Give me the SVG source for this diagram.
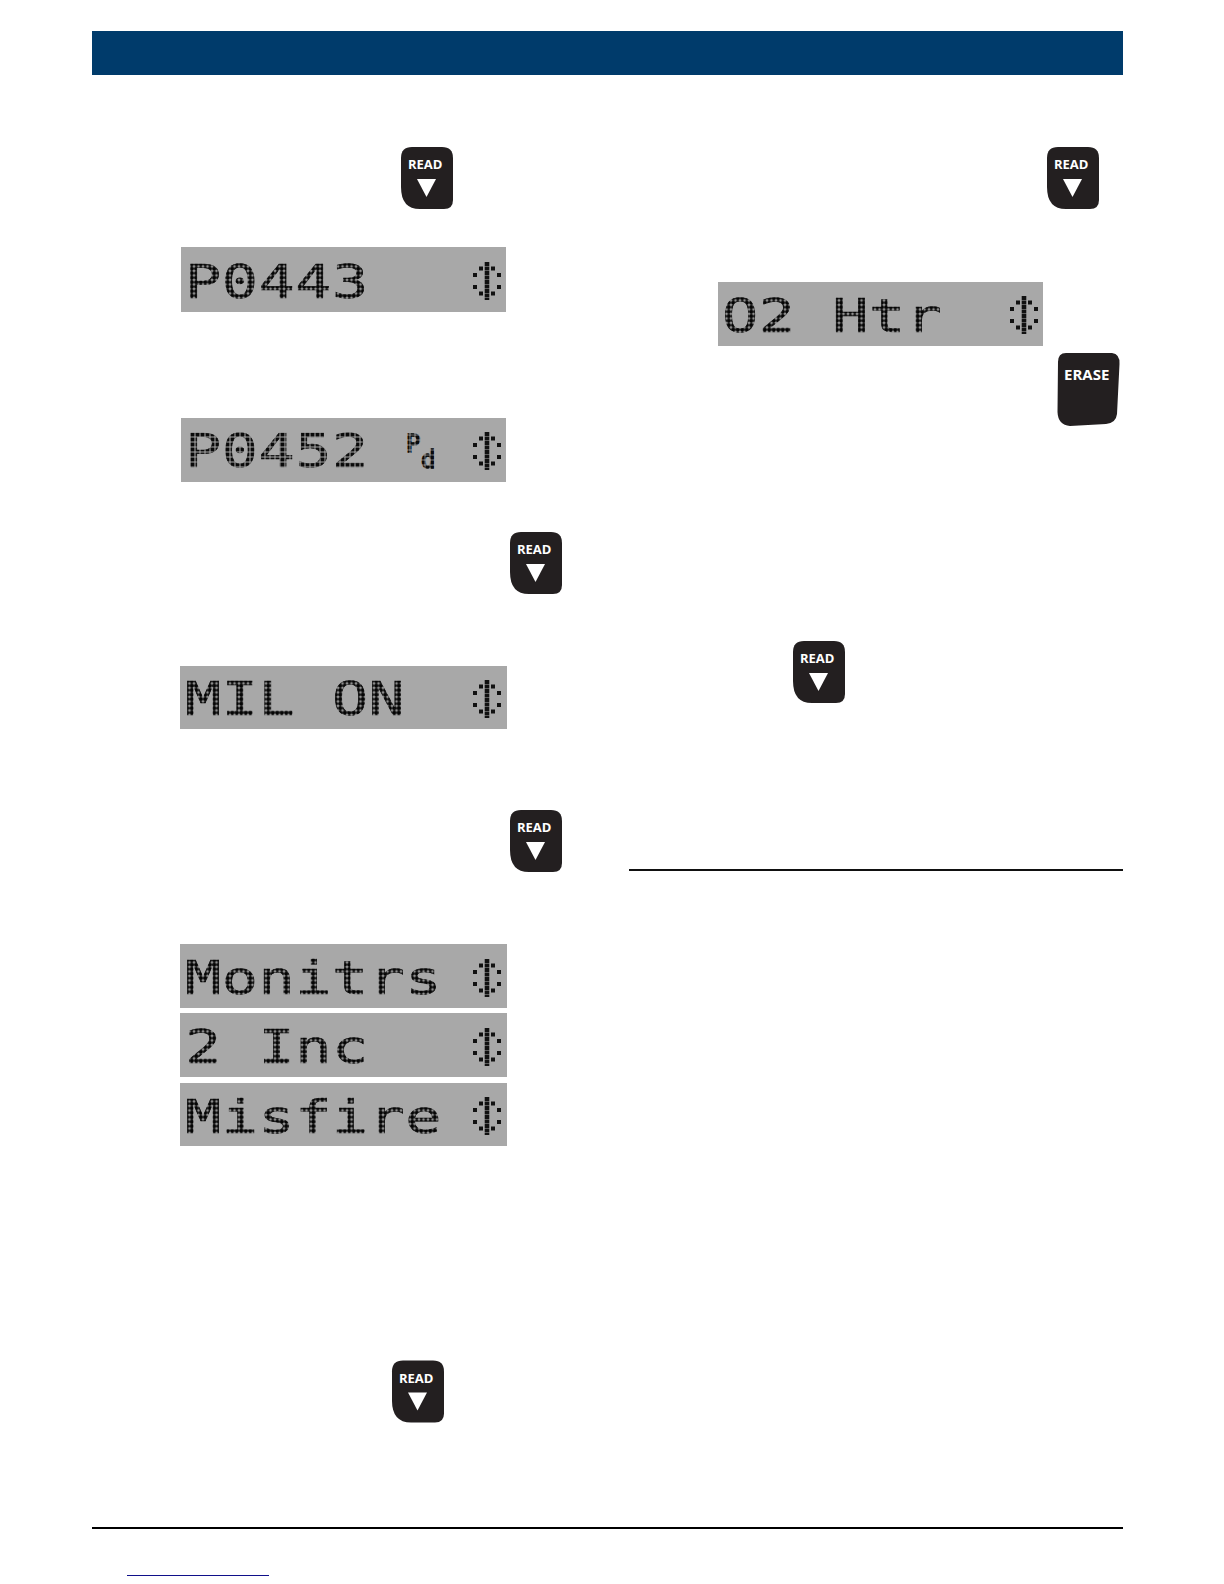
<svg xmlns="http://www.w3.org/2000/svg" width="1224" height="1584" viewBox="0 0 1224 1584">
<style>
.lcd{fill:#a8a8a8}
.t{font-family:"DejaVu Sans Mono",monospace;font-size:47px;fill:url(#dots);stroke:url(#dots);stroke-width:.6px;letter-spacing:.4px}
.s{fill:url(#sq);stroke:url(#sq)}
.sm{font-family:"DejaVu Sans Mono",monospace;font-size:24px;fill:url(#sq2);stroke:url(#sq2);stroke-width:1.5px}
.btn{fill:#231f20}
.lbl{font-family:"Open Sans",sans-serif;font-weight:700;font-size:13px;fill:#fff}
.tri{fill:#fff}
.ar{fill:#111}
</style>
<defs>
<pattern id="dots" width="3.516" height="4.500" patternUnits="userSpaceOnUse"><ellipse cx="1.758" cy="2.250" rx="1.720" ry="2.200" fill="#050505"/></pattern>
<pattern id="sq" width="3.906" height="5" patternUnits="userSpaceOnUse"><rect x=".4" y=".5" width="3.100" height="4" fill="#0a0a0a"/></pattern>
<pattern id="sq2" width="5" height="5" patternUnits="userSpaceOnUse"><rect x=".5" y=".5" width="4" height="4" fill="#0a0a0a"/></pattern>
<g id="ud">
<line x1="0" y1="-19" x2="0" y2="19" stroke="#111" stroke-width="4.600" stroke-dasharray="4 .5"/>
<rect x="-8" y="-14.500" width="4" height="4" class="ar"/>
<rect x="4" y="-14.500" width="4" height="4" class="ar"/>
<rect x="-14" y="-8" width="4" height="4" class="ar"/>
<rect x="10" y="-8" width="4" height="4" class="ar"/>
<rect x="-14" y="4" width="4" height="4" class="ar"/>
<rect x="10" y="4" width="4" height="4" class="ar"/>
<rect x="-8" y="10.500" width="4" height="4" class="ar"/>
<rect x="4" y="10.500" width="4" height="4" class="ar"/>
</g>
<path id="key" d="M11 0H41Q52 0 52 11V53Q52 62 43 62H19Q0 62 0 40V11Q0 0 11 0Z"/>
</defs>

<rect id="header" x="92" y="31" width="1031" height="44" fill="#003b6b"/>

<g id="read1" transform="translate(401 147)"><use href="#key" class="btn"/><text x="7" y="22" class="lbl">READ</text><path d="M16 32H35L25.500 50Z" class="tri"/></g>
<g id="read2" transform="translate(510 532)"><use href="#key" class="btn"/><text x="7" y="22" class="lbl">READ</text><path d="M16 32H35L25.500 50Z" class="tri"/></g>
<g id="read3" transform="translate(510 810)"><use href="#key" class="btn"/><text x="7" y="22" class="lbl">READ</text><path d="M16 32H35L25.500 50Z" class="tri"/></g>
<g id="read4" transform="translate(392 1360.500)"><use href="#key" class="btn"/><text x="7" y="22" class="lbl">READ</text><path d="M16 32H35L25.500 50Z" class="tri"/></g>
<g id="read5" transform="translate(1047 147)"><use href="#key" class="btn"/><text x="7" y="22" class="lbl">READ</text><path d="M16 32H35L25.500 50Z" class="tri"/></g>
<g id="read6" transform="translate(793 641)"><use href="#key" class="btn"/><text x="7" y="22" class="lbl">READ</text><path d="M16 32H35L25.500 50Z" class="tri"/></g>

<g id="erase"><path class="btn" d="M1066 353H1112Q1120 354 1119.500 364L1117 414Q1116 423 1106 424L1070 426Q1058 425 1057.500 412L1058 362Q1058 353 1066 353Z"/><text x="1064" y="380" class="lbl" style="font-size:15px">ERASE</text></g>

<g id="lcd1"><rect class="lcd" x="181" y="247" width="325" height="65"/><text class="t" transform="translate(185 298) scale(1.28 1)">P0443</text><use href="#ud" x="487" y="281"/></g>
<g id="lcd2"><rect class="lcd" x="181" y="418" width="325" height="64"/><text class="t s" transform="translate(185 467) scale(1.28 1)">P0452</text><text class="sm" x="406" y="452">P</text><text class="sm" x="421" y="468">d</text><use href="#ud" x="487" y="451"/></g>
<g id="lcd3"><rect class="lcd" x="180" y="666" width="327" height="63"/><text class="t" transform="translate(185 715) scale(1.28 1)">MIL ON</text><use href="#ud" x="487" y="699"/></g>
<g id="lcd4"><rect class="lcd" x="180" y="944" width="327" height="64"/><text class="t" transform="translate(185 994) scale(1.28 1)">Monitrs</text><use href="#ud" x="487" y="978"/></g>
<g id="lcd5"><rect class="lcd" x="180" y="1013" width="327" height="64"/><text class="t" transform="translate(185 1063) scale(1.28 1)">2 Inc</text><use href="#ud" x="487" y="1047"/></g>
<g id="lcd6"><rect class="lcd" x="180" y="1083" width="327" height="63"/><text class="t" transform="translate(185 1133) scale(1.28 1)">Misfire</text><use href="#ud" x="487" y="1116"/></g>
<g id="lcd7"><rect class="lcd" x="718" y="282" width="325" height="64"/><text class="t" transform="translate(722 332) scale(1.28 1)">O2 Htr</text><use href="#ud" x="1024" y="315"/></g>

<rect x="629" y="869" width="494" height="2" fill="#111"/>
<rect x="92" y="1527" width="1031" height="2" fill="#000"/>
<rect x="127" y="1575" width="142" height="1" fill="#10108a"/>
</svg>
